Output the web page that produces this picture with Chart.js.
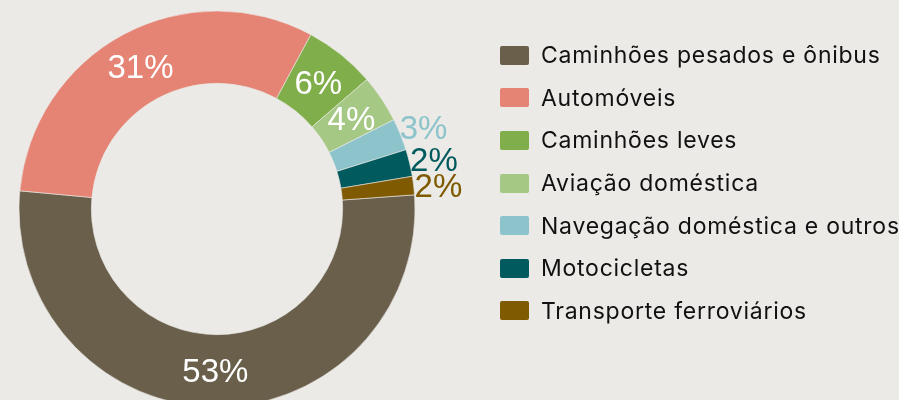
<!DOCTYPE html>
<html>
<head>
<meta charset="utf-8">
<script src="https://cdn.jsdelivr.net/npm/chart.js@4.4.1/dist/chart.umd.min.js"></script>
<style>
    html, body { margin: 0; padding: 0; background: #ebeae6; overflow: hidden; }
    #wrap { position: relative; width: 899px; height: 400px; }
    #chart-box { position: absolute; left: 0; top: 0; width: 899px; height: 400px; }
    #legend { position: absolute; left: 500px; top: 34px; margin: 0; padding: 0; list-style: none;
        font-family: Inter, "Open Sans", sans-serif; font-size: 23px; letter-spacing: 0.75px; color: #111; }
    #legend li { display: flex; align-items: center; height: 42.6px; white-space: nowrap; }
    #legend .box { width: 29px; height: 19px; border-radius: 2px; margin-right: 12px; flex: none; }
</style>
</head>
<body>
<div id="wrap">
    <div id="chart-box"><canvas id="transportChart"></canvas></div>
    <ul id="legend"></ul>
</div>
<script>
const categories = ['Caminhões pesados e ônibus', 'Automóveis', 'Caminhões leves', 'Aviação doméstica', 'Navegação doméstica e outros', 'Motocicletas', 'Transporte ferroviários'];
const values = [52.6, 31.4, 5.8, 3.9, 2.6, 2.2, 1.5];
const colors = ['#6a5f4b', '#e58474', '#80ae4b', '#a6c885', '#8dc4cc', '#015a5e', '#7f5a00'];

let transportChart = null;

function renderLegend() {
    const el = document.getElementById('legend');
    el.innerHTML = categories.map((c, i) => `<li><span class="box" style="background:${colors[i]}"></span>${c}</li>`).join('');
}

// percent labels: white inside big slices, slice-coloured outside small ones
const sliceLabels = {
    id: 'sliceLabels',
    afterDatasetsDraw(chart) {
        const ctx = chart.ctx;
        const meta = chart.getDatasetMeta(0);
        const total = values.reduce((a, b) => a + b, 0);
        ctx.save();
        ctx.font = '33px "Liberation Sans", Arial, sans-serif';
        ctx.textAlign = 'center';
        ctx.textBaseline = 'middle';
        meta.data.forEach((arc, i) => {
            const pct = values[i] / total * 100;
            const p = arc.getProps(['x', 'y', 'startAngle', 'endAngle', 'innerRadius', 'outerRadius'], true);
            const mid = (p.startAngle + p.endAngle) / 2;
            const inside = pct >= 3.5;
            const r = inside ? (p.innerRadius + p.outerRadius) / 2 : p.outerRadius + 25;
            ctx.fillStyle = inside ? '#ffffff' : colors[i];
            ctx.fillText(Math.round(pct) + '%', p.x + Math.cos(mid) * r, p.y + Math.sin(mid) * r + (inside ? 2 : 5));
        });
        ctx.restore();
    }
};

function renderChart() {
    const ctx = document.getElementById('transportChart').getContext('2d');
    if (transportChart) transportChart.destroy();
    transportChart = new Chart(ctx, {
        type: 'doughnut',
        data: {
            labels: categories,
            datasets: [{
                data: values,
                backgroundColor: colors,
                borderColor: '#ebeae6',
                borderWidth: 0.6,
                hoverOffset: 0,
                clip: false
            }]
        },
        options: {
            responsive: true,
            maintainAspectRatio: false,
            animation: false,
            rotation: 85.9,
            radius: 198,
            cutout: 121,
            layout: { padding: { left: 0, right: 465, top: 18, bottom: 0 } },
            plugins: { legend: { display: false }, tooltip: { enabled: false } }
        },
        plugins: [sliceLabels]
    });
}

renderLegend();
renderChart();
</script>
</body>
</html>
